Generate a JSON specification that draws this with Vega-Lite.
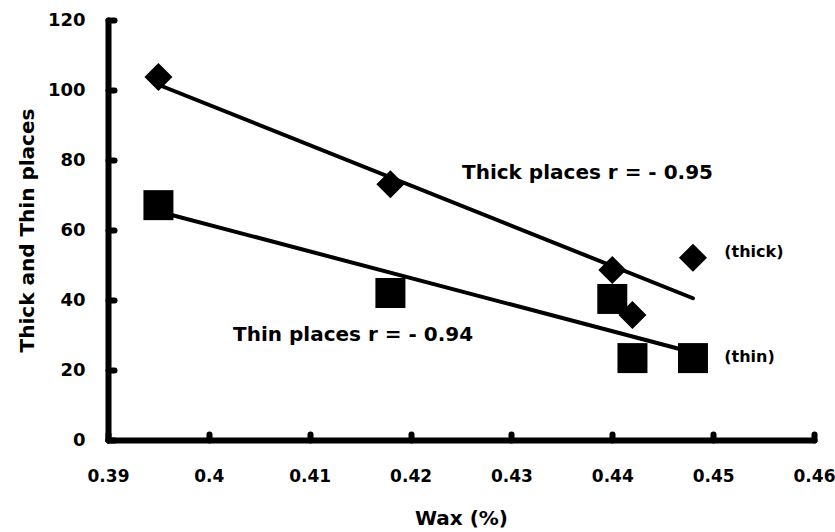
{
  "$schema": "https://vega.github.io/schema/vega-lite/v6.json",
  "autosize": {"type": "none"},
  "width": 706,
  "height": 420,
  "padding": {"left": 108, "top": 20, "right": 21, "bottom": 92},
  "background": "white",
  "config": {
    "view": {"stroke": null},
    "font": "DejaVu Sans"
  },
  "datasets": {
    "points": [
      {"series": "thick", "wax": 0.395, "value": 103.7},
      {"series": "thick", "wax": 0.418, "value": 73.1},
      {"series": "thick", "wax": 0.440, "value": 48.6},
      {"series": "thick", "wax": 0.442, "value": 35.7},
      {"series": "thick", "wax": 0.448, "value": 52.1},
      {"series": "thin", "wax": 0.395, "value": 67.1},
      {"series": "thin", "wax": 0.418, "value": 42.0},
      {"series": "thin", "wax": 0.440, "value": 40.3},
      {"series": "thin", "wax": 0.442, "value": 23.4},
      {"series": "thin", "wax": 0.448, "value": 23.4}
    ],
    "fits": [
      {"series": "thick", "wax": 0.395, "value": 101.5},
      {"series": "thick", "wax": 0.448, "value": 40.5},
      {"series": "thin", "wax": 0.395, "value": 65.3},
      {"series": "thin", "wax": 0.448, "value": 25.0}
    ],
    "notes": [
      {"label": "Thick places  r = - 0.95", "wax": 0.4251, "value": 76.3, "kind": "big"},
      {"label": "Thin places  r = - 0.94", "wax": 0.4024, "value": 30.0, "kind": "big"},
      {"label": "(thick)", "wax": 0.4511, "value": 53.7, "kind": "small"},
      {"label": "(thin)", "wax": 0.4511, "value": 23.7, "kind": "small"}
    ]
  },
  "layer": [
    {
      "data": {"name": "points"},
      "transform": [{"filter": "datum.series === 'thin'"}],
      "mark": {"type": "point", "shape": "square", "filled": true, "color": "black", "size": 900, "opacity": 1},
      "encoding": {
        "x": {
          "field": "wax", "type": "quantitative",
          "scale": {"domain": [0.39, 0.46], "nice": false, "zero": false},
          "axis": {
            "values": [0.39, 0.40, 0.41, 0.42, 0.43, 0.44, 0.45, 0.46], "format": "~g",
            "title": "Wax (%)", "grid": false, "labelFlush": false, "labelOverlap": false,
            "domainColor": "black", "domainWidth": 6, "domainCap": "round",
            "ticks": true, "tickColor": "black", "tickWidth": 6, "tickCap": "round", "tickSize": -6,
            "labelFont": "DejaVu Sans", "labelFontWeight": "bold", "labelFontSize": 17, "labelColor": "black",
            "labelPadding": 34,
            "titleFont": "DejaVu Sans", "titleFontWeight": "bold", "titleFontSize": 20, "titleColor": "black",
            "titlePadding": 24
          }
        },
        "y": {
          "field": "value", "type": "quantitative",
          "scale": {"domain": [0, 120], "nice": false},
          "axis": {
            "values": [0, 20, 40, 60, 80, 100, 120],
            "title": "Thick and Thin places", "grid": false, "labelFlush": false, "labelOverlap": false,
            "domainColor": "black", "domainWidth": 6, "domainCap": "round",
            "ticks": true, "tickColor": "black", "tickWidth": 6, "tickCap": "round", "tickSize": -6,
            "labelFont": "DejaVu Sans", "labelFontWeight": "bold", "labelFontSize": 18, "labelColor": "black",
            "labelPadding": 29,
            "titleFont": "DejaVu Sans", "titleFontWeight": "bold", "titleFontSize": 20, "titleColor": "black",
            "titlePadding": 10
          }
        }
      }
    },
    {
      "data": {"name": "points"},
      "transform": [{"filter": "datum.series === 'thick'"}],
      "mark": {"type": "point", "shape": "diamond", "filled": true, "color": "black", "size": 784, "opacity": 1},
      "encoding": {
        "x": {"field": "wax", "type": "quantitative"},
        "y": {"field": "value", "type": "quantitative"}
      }
    },
    {
      "data": {"name": "fits"},
      "mark": {"type": "line", "color": "black", "strokeWidth": 4, "strokeCap": "round"},
      "encoding": {
        "x": {"field": "wax", "type": "quantitative"},
        "y": {"field": "value", "type": "quantitative"},
        "detail": {"field": "series"}
      }
    },
    {
      "data": {"name": "notes"},
      "transform": [{"filter": "datum.kind === 'big'"}],
      "mark": {"type": "text", "align": "left", "baseline": "middle", "font": "DejaVu Sans", "fontWeight": "bold", "fontSize": 20, "color": "black"},
      "encoding": {
        "x": {"field": "wax", "type": "quantitative"},
        "y": {"field": "value", "type": "quantitative"},
        "text": {"field": "label"}
      }
    },
    {
      "data": {"name": "notes"},
      "transform": [{"filter": "datum.kind === 'small'"}],
      "mark": {"type": "text", "align": "left", "baseline": "middle", "font": "DejaVu Sans", "fontWeight": "bold", "fontSize": 16, "color": "black"},
      "encoding": {
        "x": {"field": "wax", "type": "quantitative"},
        "y": {"field": "value", "type": "quantitative"},
        "text": {"field": "label"}
      }
    }
  ]
}
